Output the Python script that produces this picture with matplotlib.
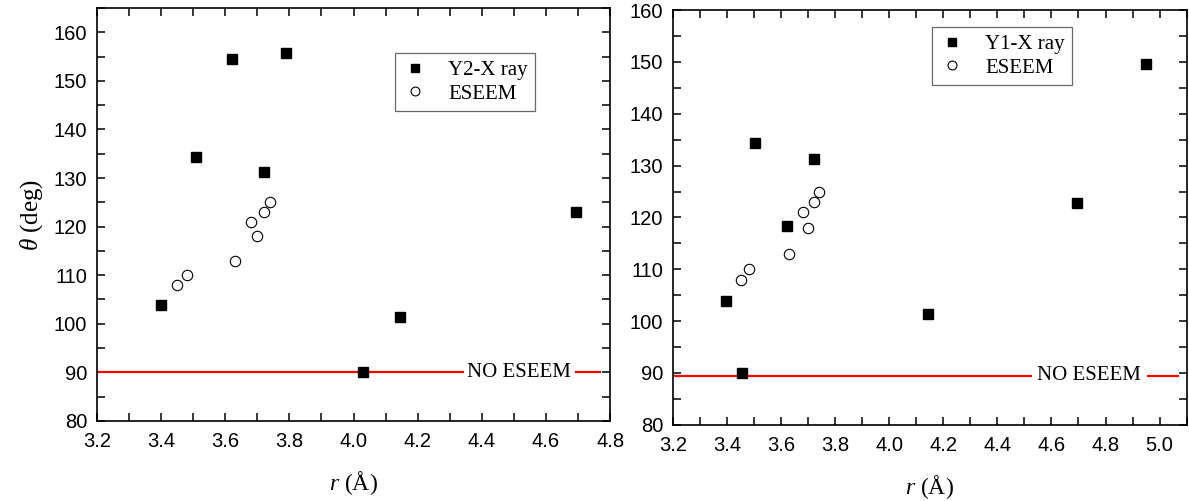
import numpy as np
import matplotlib
matplotlib.use('Agg')
import matplotlib.pyplot as plt
from matplotlib.ticker import MultipleLocator

plt.rcParams['font.family'] = 'Liberation Sans'
plt.rcParams['mathtext.fontset'] = 'custom'
plt.rcParams['mathtext.rm'] = 'Liberation Serif'
plt.rcParams['mathtext.it'] = 'Liberation Serif:italic'

# Y2 crystal structure distances / angles
r_y2 = [3.40, 3.51, 3.62, 3.79, 3.72, 4.03, 4.145, 4.695]
theta_y2 = [103.9, 134.4, 154.4, 155.7, 131.2, 90.0, 101.3, 122.9]

# Y1 crystal structure distances / angles
r_y1 = [3.395, 3.505, 3.72, 3.62, 3.457, 4.145, 4.695, 4.95]
theta_y1 = [103.9, 134.4, 131.2, 118.4, 90.0, 101.4, 122.8, 149.6]

# ESEEM estimates (same in both panels)
r_eseem = [3.45, 3.48, 3.63, 3.68, 3.70, 3.72, 3.74]
theta_eseem = [108, 110, 113, 121, 118, 123, 125]

serif = 'Liberation Serif'

fig = plt.figure(figsize=(11.89, 5.01), dpi=100)
ax1 = fig.add_axes([0.0816, 0.160, 0.4315, 0.824])
ax2 = fig.add_axes([0.566, 0.152, 0.432, 0.828])


def style_axes(ax, xlim, ylim, xstep):
    ax.set_xlim(*xlim)
    ax.set_ylim(*ylim)
    ax.xaxis.set_major_locator(MultipleLocator(xstep))
    ax.xaxis.set_minor_locator(MultipleLocator(xstep / 2))
    ax.yaxis.set_major_locator(MultipleLocator(10))
    ax.yaxis.set_minor_locator(MultipleLocator(5))
    ax.tick_params(which='both', direction='in', top=True, right=True,
                   width=1.1, labelsize=14.5, color='black')
    ax.tick_params(which='both', length=6)
    ax.tick_params(axis='x', pad=8)
    ax.tick_params(axis='y', pad=7)
    for s in ax.spines.values():
        s.set_linewidth(1.2)
    ax.xaxis.set_major_formatter(matplotlib.ticker.FormatStrFormatter('%.1f'))
    ax.set_xlabel(r'$r$ ($\mathrm{\AA}$)', fontsize=17, family=serif, labelpad=13)


def no_eseem(ax, y, x_end1, x_text, x_start2, x_end2):
    ax.plot([ax.get_xlim()[0], x_end1], [y, y], color='red', lw=1.6)
    ax.plot([x_start2, x_end2], [y, y], color='red', lw=1.6)
    ax.text(x_text, y, 'NO ESEEM', family=serif, fontsize=15,
            ha='center', va='center')


def add_legend(ax, anchor):
    leg = ax.legend(loc='upper left', bbox_to_anchor=anchor, borderaxespad=0,
                    prop={'family': serif, 'size': 15}, fancybox=False,
                    edgecolor='#444444', markerscale=0.85, handlelength=1.2,
                    handletextpad=1.0, borderpad=0.35, labelspacing=0.2)
    leg.get_frame().set_linewidth(0.9)


# left panel: Y2
ax1.plot(r_y2, theta_y2, 's', color='black', ms=7, label='Y2-X ray', zorder=3)
ax1.plot(r_eseem, theta_eseem, 'o', mfc='white', mec='black', mew=0.8, ms=7.5,
         label='ESEEM', zorder=3)
style_axes(ax1, (3.2, 4.8), (80, 165), 0.2)
no_eseem(ax1, 90, 4.34, 4.515, 4.695, 4.77)
ax1.set_ylabel(r'$\theta$ (deg)', fontsize=18, family=serif, labelpad=6)
add_legend(ax1, (0.581, 0.891))

# right panel: Y1
ax2.plot(r_y1, theta_y1, 's', color='black', ms=7, label='Y1-X ray', zorder=3)
ax2.plot(r_eseem, theta_eseem, 'o', mfc='white', mec='black', mew=0.8, ms=7.5,
         label='ESEEM', zorder=3)
style_axes(ax2, (3.2, 5.1), (80, 160), 0.2)
no_eseem(ax2, 89.5, 4.525, 4.74, 4.956, 5.067)
add_legend(ax2, (0.504, 0.959))

fig.savefig('out.png', dpi=100)
